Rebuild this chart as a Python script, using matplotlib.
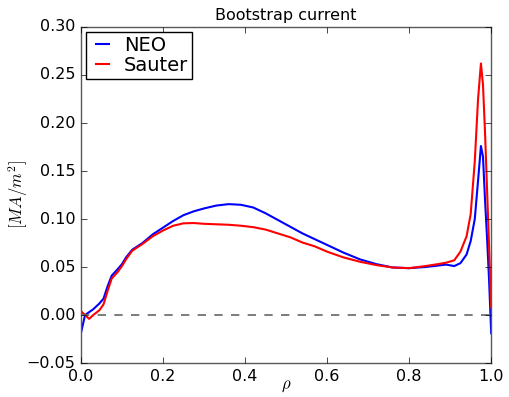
import matplotlib
matplotlib.use('Agg')
import matplotlib.pyplot as plt

plt.style.use('classic')

rho = [0, 0.01, 0.02, 0.03, 0.045, 0.055, 0.065, 0.075, 0.09, 0.1, 0.11, 0.125,
       0.15, 0.175, 0.2, 0.225, 0.25, 0.275, 0.3, 0.33, 0.36, 0.39, 0.42, 0.45,
       0.48, 0.51, 0.54, 0.57, 0.6, 0.64, 0.68, 0.72, 0.76, 0.8, 0.84, 0.87,
       0.89, 0.91, 0.925, 0.94, 0.95, 0.96, 0.968, 0.975, 0.98, 0.985, 0.99,
       0.995, 1.0]

neo = [-0.019, 0.0, 0.003, 0.006, 0.012, 0.017, 0.03, 0.041, 0.048, 0.053, 0.06,
       0.068, 0.075, 0.084, 0.091, 0.098, 0.104, 0.108, 0.111, 0.114, 0.1155,
       0.1148, 0.112, 0.106, 0.099, 0.092, 0.085, 0.079, 0.073, 0.065, 0.058,
       0.053, 0.0495, 0.0488, 0.050, 0.0515, 0.0525, 0.051, 0.054, 0.063, 0.077,
       0.100, 0.14, 0.176, 0.165, 0.12, 0.08, 0.035, -0.019]

sauter = [0.004, 0.0, -0.004, 0.0, 0.005, 0.011, 0.025, 0.038, 0.045, 0.051,
          0.058, 0.067, 0.074, 0.082, 0.088, 0.093, 0.0955, 0.0958, 0.095,
          0.0945, 0.094, 0.093, 0.0915, 0.089, 0.085, 0.081, 0.0755, 0.0715,
          0.066, 0.060, 0.0555, 0.052, 0.0495, 0.0488, 0.051, 0.053, 0.0545,
          0.057, 0.066, 0.082, 0.105, 0.16, 0.225, 0.262, 0.24, 0.19, 0.13, 0.07,
          0.008]

fig = plt.figure(figsize=(5.09, 3.97), dpi=100, facecolor='white')
ax = fig.add_axes([0.159, 0.0856, 0.806, 0.8464])

ax.plot(rho, neo, 'b-', lw=1.5, label='NEO')
ax.plot(rho, sauter, 'r-', lw=1.5, label='Sauter')
ax.axhline(0, color='0.4', ls='--', lw=1.2)

ax.set_xlim(0, 1)
ax.set_ylim(-0.05, 0.30)
ax.set_xticks([0, 0.2, 0.4, 0.6, 0.8, 1.0])
ax.set_yticks([-0.05, 0, 0.05, 0.1, 0.15, 0.2, 0.25, 0.3])
ax.tick_params(labelsize=11.5)
for s in ax.spines.values():
    s.set_color('0.35')
ax.set_xlabel(r'$\rho$', fontsize=12)
ax.set_ylabel(r'$[MA/m^2]$', fontsize=12)
ax.xaxis.set_label_coords(0.5, -0.04)
ax.yaxis.set_label_coords(-0.125, 0.5)
ax.set_title('Bootstrap current', fontsize=11.5)
ax.legend(loc='upper left', fontsize=14, handlelength=1.3, borderpad=0.2,
          labelspacing=0.05, handletextpad=0.45, borderaxespad=0.25, numpoints=2)

fig.savefig('out.png', dpi=100, facecolor='white')
